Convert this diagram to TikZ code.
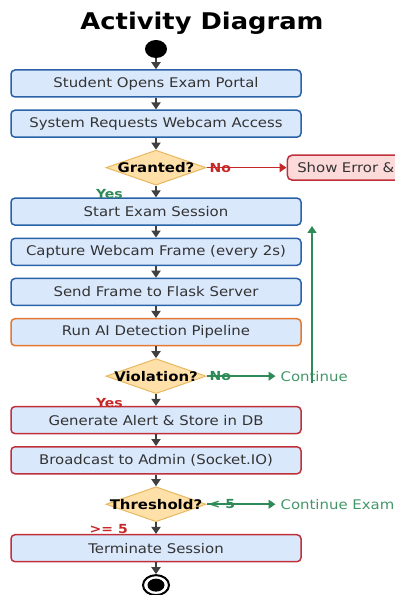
\documentclass[tikz,border=0pt]{standalone}
\usepackage{fontspec}
\setmainfont{DejaVu Sans}[FakeStretch=1.12]
\usetikzlibrary{positioning, arrows.meta, shapes.geometric}
\definecolor{boxFill}{HTML}{DAE8FC}
\definecolor{stepBlue}{HTML}{2A62A8}
\definecolor{stepOrange}{HTML}{E6772E}
\definecolor{stepRed}{HTML}{C0303A}
\definecolor{errFill}{HTML}{FDDADA}
\definecolor{decFill}{HTML}{FFE0A8}
\definecolor{decEdge}{HTML}{E8B860}
\definecolor{flowGray}{HTML}{404040}
\definecolor{textGray}{HTML}{333333}
\definecolor{okGreen}{HTML}{2E8B57}
\definecolor{badRed}{HTML}{C62828}
\tikzset{
  activity/.style={
    rectangle,
    rounded corners=4pt,
    draw=stepBlue,
    line width=1.5pt,
    fill=boxFill,
    minimum width=290pt,
    minimum height=27pt,
    inner sep=0pt,
    text=textGray,
    font=\fontsize{13.3}{15}\selectfont
  },
  alert/.style={
    activity,
    draw=stepRed
  },
  decision/.style={
    diamond,
    draw=decEdge,
    line width=1pt,
    fill=decFill,
    minimum width=100pt,
    minimum height=35pt,
    inner sep=0pt,
    font=\fontsize{13.3}{15}\selectfont\bfseries
  },
  flow/.style={
    -{Triangle[length=7pt,width=9pt]},
    line width=2pt,
    draw=flowGray
  },
  okflow/.style={
    -{Triangle[length=7pt,width=9pt]},
    line width=1.5pt,
    draw=okGreen
  },
  badflow/.style={
    -{Triangle[length=7pt,width=9pt]},
    line width=1.5pt,
    draw=badRed
  }
}

\begin{document}
\begin{tikzpicture}[
          x=1pt, y=1pt,
          node distance=11.7pt,
          oklbl/.style={inner sep=0pt, text=okGreen, font=\fontsize{12.5}{14}\selectfont\bfseries},
          badlbl/.style={inner sep=0pt, text=badRed, font=\fontsize{12.5}{14}\selectfont\bfseries},
          okinfo/.style={inner sep=0pt, text=okGreen!90!white, font=\fontsize{13.3}{15}\selectfont}
        ]
          \useasboundingbox (0,0) rectangle (394,595);
          \node[font=\fontsize{23}{26}\selectfont\bfseries] (title) at (202,572) {Activity Diagram};
          \node[ellipse, fill=black, minimum width=22pt, minimum height=18pt, inner sep=0pt] (start) at (156,546) {};

          \node[activity] (b1) at (156,511.5) {Student Opens Exam Portal};
          \node[activity, below=of b1] (b2) {System Requests Webcam Access};
          \node[decision, below=of b2] (d1) {\makebox[0pt]{Granted?}};
          \node[activity, below=of d1] (b3) {Start Exam Session};
          \node[activity, below=of b3] (b4) {Capture Webcam Frame (every 2s)};
          \node[activity, below=of b4] (b5) {Send Frame to Flask Server};
          \node[activity, draw=stepOrange, below=of b5] (b6) {Run AI Detection Pipeline};
          \node[decision, below=of b6] (d2) {\makebox[0pt]{Violation?}};
          \node[alert, below=of d2] (b7) {Generate Alert \& Store in DB};
          \node[alert, below=of b7] (b8) {Broadcast to Admin (Socket.IO)};
          \node[decision, below=of b8] (d3) {\makebox[0pt]{Threshold?}};
          \node[alert, below=of d3] (b9) {Terminate Session};
          \node[ellipse, draw=black, line width=2pt, fill=white, minimum width=26pt, minimum height=20pt, inner sep=0pt,
                path picture={\fill[black] (path picture bounding box.center) ellipse (8.5pt and 6.5pt);},
                below=of b9] (stop) {};

          \foreach \a/\b in {start/b1, b1/b2, b2/d1, d1/b3, b3/b4, b4/b5, b5/b6, b6/d2, d2/b7, b7/b8, b8/d3, d3/b9, b9/stop}
            \draw[flow] (\a) -- (\b);

          % Branches
          \node[alert, fill=errFill, rounded corners=5pt, minimum width=0pt, minimum height=25pt,
                text width=120pt, align=left, inner xsep=10pt, right=80pt of d1] (err) {Show Error \&};
          \draw[badflow] (d1) -- (err);
          \node[badlbl, right=3pt of d1.east] (no1) {No};
          \node[oklbl, anchor=east] (yes1) at ([xshift=-33pt,yshift=-8pt]d1.south) {Yes};

          \node[okinfo, right=74pt of d2] (cont1) {Continue};
          \draw[okflow] (d2) -- ([xshift=-5pt]cont1.west);
          \node[oklbl, right=3pt of d2.east] (no2) {No};
          \node[badlbl, anchor=east] (yes2) at ([xshift=-33pt,yshift=-9pt]d2.south) {Yes};
          \coordinate (loopfoot) at (312,212);
          \coordinate (loophead) at (312,369);
          \draw[okflow] (loopfoot) -- (loophead);

          \node[okinfo, right=74pt of d3] (cont2) {Continue Exam};
          \draw[okflow] (d3) -- ([xshift=-5pt]cont2.west);
          \node[oklbl, right=2pt of d3.east] (lt5) {< 5};
          \node[badlbl, anchor=east] (ge5) at ([xshift=-28pt,yshift=-7pt]d3.south) {>= 5};
        \end{tikzpicture}
\end{document}
